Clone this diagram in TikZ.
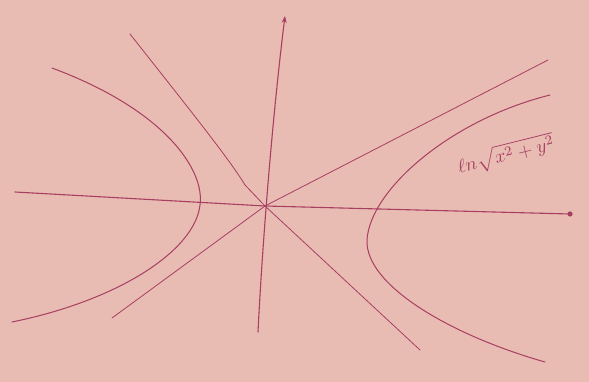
\documentclass[tikz,border=0pt]{standalone}
\usetikzlibrary{arrows.meta}
\definecolor{paper}{RGB}{232,188,178}
\definecolor{ink}{RGB}{168,62,98}
\begin{document}
\begin{tikzpicture}[x=1pt,y=-1pt,line cap=round]
\fill[paper] (0,0) rectangle (589,382);
\useasboundingbox (0,0) rectangle (589,382);
\coordinate (O) at (265,206);

% axes
\draw[ink, line width=1.1pt] (15,192) -- (O) -- (570,214);
\fill[ink] (570,214) circle (2.6);
\draw[ink, line width=1.1pt, -{Stealth[length=7pt,width=5pt]}] (258,332) .. controls (262,250) and (272,120) .. (285,16);

% asymptotes
\draw[ink, line width=0.8pt] (112,318) -- (O) -- (548,60);
\draw[ink, line width=0.8pt] (130,34) .. controls (190,110) and (230,160) .. (245,185) -- (O) -- (420,350);

% left branch
\draw[ink, line width=1pt] (52,68) .. controls (165,110) and (205,170) .. (200,205)
  .. controls (195,250) and (120,300) .. (12,322);

% right branch
\draw[ink, line width=1pt] (550,95) .. controls (450,120) and (370,190) .. (367,240)
  .. controls (365,285) and (450,335) .. (545,362);

% label
\node[ink, rotate=14, scale=1.9] (lbl) at (506,155) {$\ell n\sqrt{x^2+y^2}$};
\end{tikzpicture}
\end{document}
